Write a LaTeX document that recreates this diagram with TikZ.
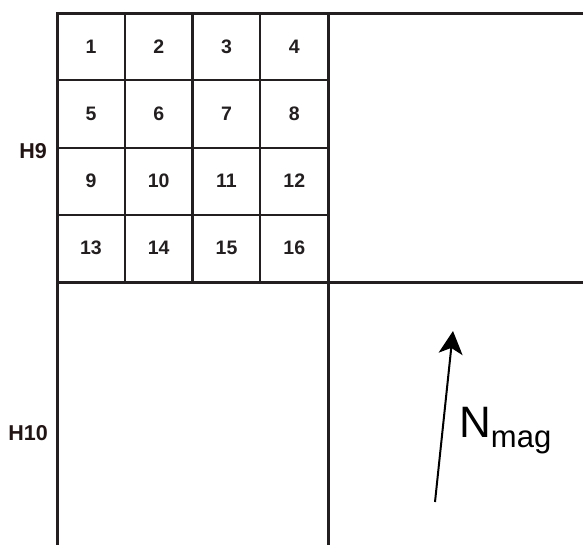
\documentclass[tikz,border=0pt]{standalone}
\usepackage{fontspec}
\setmainfont{Liberation Sans}
\usetikzlibrary{arrows.meta}
\definecolor{ink}{HTML}{231F20}
\definecolor{labelink}{HTML}{231414}
\begin{document}
\begin{tikzpicture}[x=1pt,y=-1pt,
  thick line/.style={draw=ink,line width=3pt},
  thin line/.style={draw=ink,line width=2.2pt},
  num/.style={font=\fontsize{19.5}{22}\selectfont\bfseries,text=ink},
  side/.style={font=\fontsize{21.5}{24}\selectfont\bfseries,text=labelink}]
\useasboundingbox (0,0) rectangle (583,545);
% inner grid lines
\foreach \x in {125,192.5,260} \draw[thin line] (\x,14) -- (\x,282);
\foreach \y in {80,148,215} \draw[thin line] (57,\y) -- (328,\y);
% outer lines
\draw[thick line] (583,14) -- (57,14) -- (57,545);
\draw[thick line] (328,14) -- (328,545);
\draw[thick line] (57,282) -- (583,282);
% numbers
\foreach \r in {0,1,2,3} {
  \foreach \c in {0,1,2,3} {
    \pgfmathtruncatemacro{\n}{4*\r+\c+1}
    \node[num] (c\n) at ({91+67.75*\c},{47+67*\r}) {\n};
  }
}
\node[side] (h9) at (33,151) {H9};
\node[side] (h10) at (28,433) {H10};
% arrow
\coordinate (tail) at (435,502);
\coordinate (tip) at (453,331);
\draw[draw=black,line width=2pt,-{Stealth[length=23pt,width=24pt,inset=6pt]}] (tail) -- (tip);
\node[anchor=base west,inner sep=0pt,font=\fontsize{44}{48}\selectfont] (nmag) at (459,437) {N\raisebox{-10pt}{\fontsize{31}{36}\selectfont mag}};
\end{tikzpicture}
\end{document}
